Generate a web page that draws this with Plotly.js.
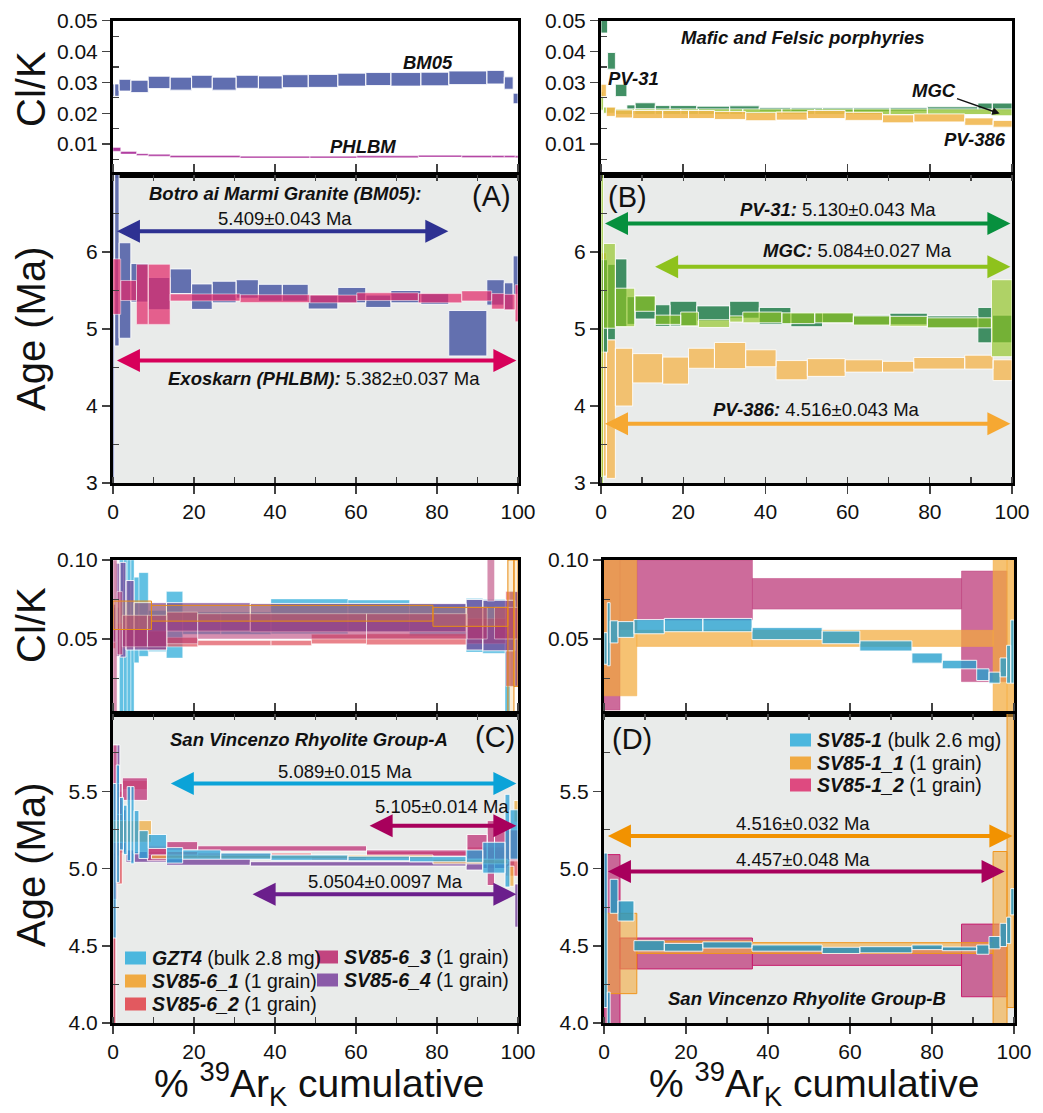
<!DOCTYPE html>
<html><head><meta charset="utf-8">
<script src="https://cdn.plot.ly/plotly-3.0.1.min.js"></script>
<style>body{margin:0;background:#fff}#chart{width:1043px;height:1113px}</style>
</head><body><div id="chart"></div>
<script>
// ---------------- DATA (step edges in cumulative %39ArK, age in Ma, Cl/K) ----------------
// Panel A
const BM05_edges = [0, 0.4, 1.5, 4.4, 8.7, 14.1, 19.4, 24.5, 30.4, 35.9, 41.8, 48.2, 55.5, 62.4, 68.6, 76.0, 82.9, 92.3, 96.6, 98.8, 100];
const BM05_age = [5.0, 5.95, 5.5, 5.6, 5.46, 5.62, 5.42, 5.48, 5.52, 5.47, 5.47, 5.35, 5.44, 5.36, 5.42, 5.39, 4.945, 5.475, 5.425, 5.7];
const BM05_ageErr = [2.5, 1.17, 0.62, 0.25, 0.21, 0.16, 0.165, 0.14, 0.12, 0.11, 0.11, 0.09, 0.1, 0.08, 0.08, 0.07, 0.295, 0.165, 0.175, 0.25];
const BM05_clk = [0.0275, 0.0275, 0.0291, 0.0287, 0.0300, 0.0296, 0.0302, 0.0296, 0.0302, 0.0300, 0.0304, 0.0305, 0.0309, 0.0311, 0.0310, 0.0311, 0.0315, 0.0317, 0.0298, 0.0248];
const BM05_clkErr = [0.002, 0.002, 0.0019, 0.002, 0.002, 0.0021, 0.0021, 0.0021, 0.0021, 0.0021, 0.0021, 0.0021, 0.0021, 0.0021, 0.0022, 0.0022, 0.0022, 0.0022, 0.002, 0.0017];

const PHLBM_edges = [0, 1.9, 5.8, 8.7, 14.1, 31.4, 48.6, 60.2, 75.4, 86.1, 93.5, 96.6, 99.3, 100];
const PHLBM_age = [5.55, 5.5, 5.45, 5.45, 5.41, 5.395, 5.39, 5.42, 5.4, 5.43, 5.36, 5.35, 5.335];
const PHLBM_ageErr = [0.36, 0.13, 0.39, 0.39, 0.045, 0.05, 0.05, 0.05, 0.06, 0.065, 0.1, 0.1, 0.24];
const PHLBM_clk = [0.0083, 0.0072, 0.0066, 0.0064, 0.0060, 0.0058, 0.0058, 0.0059, 0.0061, 0.0060, 0.0060, 0.0060, 0.0059];
const PHLBM_clkErr = [0.0006, 0.0004, 0.0003, 0.0003, 0.0003, 0.0003, 0.0003, 0.0003, 0.0003, 0.0003, 0.0003, 0.0003, 0.0003];

// Panel B
const PV31_edges = [0, 1.6, 3.5, 6.3, 8.3, 13.2, 16.8, 23.3, 31.3, 38.5, 46.2, 53.9, 61.4, 70.3, 79.4, 91.7, 95.2, 100];
const PV31_age = [5.3, 5.35, 5.47, 5.24, 5.28, 5.175, 5.2, 5.2, 5.25, 5.17, 5.12, 5.145, 5.115, 5.13, 5.09, 5.05, 5.0];
const PV31_ageErr = [0.6, 0.49, 0.44, 0.18, 0.15, 0.14, 0.16, 0.1, 0.11, 0.11, 0.09, 0.065, 0.065, 0.075, 0.08, 0.23, 0.18];
const PV31_clk = [0.055, 0.037, 0.0274, 0.0220, 0.0224, 0.0218, 0.0218, 0.0216, 0.0217, 0.0213, 0.0212, 0.0212, 0.0212, 0.0213, 0.0215, 0.0221, 0.0221];
const PV31_clkErr = [0.009, 0.0027, 0.002, 0.0007, 0.001, 0.0007, 0.0007, 0.0007, 0.0007, 0.0006, 0.0006, 0.0006, 0.0006, 0.0006, 0.0006, 0.0012, 0.0012];

const MGC_edges = [0, 0.6, 3.5, 8.2, 13.2, 19.4, 23.7, 31.3, 34.5, 44, 52, 61.4, 70.3, 79.4, 95, 100];
const MGC_age = [5.0, 5.56, 5.28, 5.33, 5.12, 5.13, 5.07, 5.13, 5.15, 5.14, 5.145, 5.11, 5.1, 5.08, 5.14];
const MGC_ageErr = [3.0, 0.55, 0.25, 0.1, 0.06, 0.09, 0.05, 0.04, 0.07, 0.07, 0.065, 0.06, 0.065, 0.065, 0.5];
const MGC_clk = [0.024, 0.021, 0.0205, 0.0205, 0.0205, 0.0205, 0.0205, 0.0205, 0.0205, 0.0205, 0.0205, 0.0205, 0.0205, 0.0205, 0.0203];
const MGC_clkErr = [0.003, 0.001, 0.0009, 0.0009, 0.0009, 0.0009, 0.0009, 0.0009, 0.0009, 0.0009, 0.0009, 0.0009, 0.0009, 0.0009, 0.0011];

const PV386_edges = [0, 1.3, 3.5, 7.7, 15, 21.3, 27.6, 35.2, 42.6, 50.2, 59.4, 68.5, 76.1, 88.5, 95.4, 100];
const PV386_age = [4.54, 3.96, 4.375, 4.49, 4.46, 4.62, 4.655, 4.62, 4.465, 4.5, 4.52, 4.51, 4.555, 4.57, 4.465];
const PV386_ageErr = [1.45, 0.9, 0.375, 0.19, 0.175, 0.13, 0.17, 0.11, 0.125, 0.115, 0.08, 0.07, 0.075, 0.09, 0.135];
const PV386_clk = [0.0274, 0.0205, 0.0198, 0.0196, 0.0196, 0.0196, 0.0193, 0.0189, 0.0191, 0.0196, 0.0190, 0.0182, 0.0185, 0.0173, 0.0166];
const PV386_clkErr = [0.002, 0.0015, 0.0013, 0.0013, 0.0013, 0.0013, 0.0013, 0.0013, 0.0013, 0.0013, 0.0013, 0.0013, 0.0013, 0.0012, 0.0011];

// Panel C
const GZT4_edges = [0, 0.8, 1.6, 2.6, 3.5, 4.4, 5.2, 6.4, 8.7, 13.2, 17.2, 26.6, 39.0, 58.0, 73.2, 87.2, 91.3, 96.8, 98.0, 100];
const GZT4_age = [5.05, 5.29, 5.29, 5.25, 5.29, 5.28, 5.235, 5.155, 5.175, 5.085, 5.09, 5.08, 5.07, 5.065, 5.06, 5.08, 5.07, 5.18, 5.22];
const GZT4_ageErr = [0.5, 0.38, 0.17, 0.16, 0.24, 0.25, 0.14, 0.09, 0.045, 0.05, 0.03, 0.02, 0.017, 0.015, 0.017, 0.04, 0.1, 0.3, 0.16];
const GZT4_clk = [0.06, 0.06, 0.05, 0.05, 0.05, 0.05, 0.062, 0.0655, 0.055, 0.059, 0.060, 0.060, 0.0643, 0.0646, 0.062, 0.0587, 0.058, 0.028, 0.05];
const GZT4_clkErr = [0.01, 0.01, 0.05, 0.05, 0.05, 0.05, 0.027, 0.0265, 0.013, 0.021, 0.007, 0.007, 0.011, 0.010, 0.010, 0.017, 0.017, 0.0255, 0.03];

const SV85_6_1_edges = [0, 9.5, 79, 97.5, 99, 100];
const SV85_6_1_age = [5.24, 5.075, 5.045, 4.95, 5.37];
const SV85_6_1_ageErr = [0.07, 0.012, 0.015, 0.065, 0.07];
const SV85_6_1_clk = [0.065, 0.0663, 0.064, 0.05, 0.06];
const SV85_6_1_clkErr = [0.009, 0.005, 0.006, 0.05, 0.04];

const SV85_6_2_edges = [0, 0.7, 2.3, 8.5, 13.3, 20.9, 39, 49, 62.6, 87.4, 97, 100];
const SV85_6_2_age = [4.53, 5.2, 5.54, 5.12, 5.09, 5.085, 5.09, 5.065, 5.095, 5.1, 5.1];
const SV85_6_2_ageErr = [0.55, 0.3, 0.03, 0.03, 0.02, 0.015, 0.01, 0.012, 0.015, 0.04, 0.15];
const SV85_6_2_clk = [0.05, 0.05, 0.05, 0.049, 0.048, 0.0475, 0.0475, 0.05, 0.0498, 0.055, 0.05];
const SV85_6_2_clkErr = [0.006, 0.01, 0.006, 0.006, 0.003, 0.0016, 0.0016, 0.003, 0.0035, 0.008, 0.03];

const SV85_6_3_edges = [0, 1.0, 2.3, 8.5, 13.3, 20.9, 62.6, 87.4, 92.4, 94.2, 100];
const SV85_6_3_age = [5.3, 5.45, 5.514, 5.095, 5.147, 5.13, 5.1, 5.14, 5.1, 5.15];
const SV85_6_3_ageErr = [0.5, 0.1, 0.073, 0.045, 0.027, 0.017, 0.02, 0.08, 0.21, 0.1];
const SV85_6_3_clk = [0.05, 0.06, 0.055, 0.055, 0.057, 0.058, 0.058, 0.06, 0.09, 0.06];
const SV85_6_3_clkErr = [0.05, 0.02, 0.01, 0.01, 0.01, 0.008, 0.008, 0.01, 0.016, 0.01];

const SV85_6_4_edges = [0, 0.7, 1.7, 3.2, 5.2, 13.2, 33.9, 87.2, 91.3, 99.2, 100];
const SV85_6_4_age = [4.5, 5.44, 5.24, 5.08, 5.075, 5.043, 5.03, 5.02, 5.06, 4.76];
const SV85_6_4_ageErr = [0.6, 0.36, 0.14, 0.04, 0.035, 0.022, 0.014, 0.03, 0.06, 0.14];
const SV85_6_4_clk = [0.06, 0.0685, 0.0685, 0.065, 0.058, 0.064, 0.0635, 0.059, 0.0585, 0.05];
const SV85_6_4_clkErr = [0.012, 0.0295, 0.03, 0.022, 0.015, 0.009, 0.009, 0.016, 0.016, 0.03];

// Panel D
const SV85_1_edges = [0, 0.8, 1.5, 3.4, 7.3, 14.7, 24.1, 36.1, 53.2, 62.4, 75.1, 82.5, 90.9, 93.9, 96.6, 98.2, 99.2, 100];
const SV85_1_age = [4.6, 3.9, 4.82, 4.725, 4.5, 4.49, 4.505, 4.485, 4.47, 4.474, 4.49, 4.48, 4.475, 4.52, 4.57, 4.6, 4.785];
const SV85_1_ageErr = [0.5, 0.3, 0.11, 0.065, 0.033, 0.025, 0.02, 0.02, 0.02, 0.02, 0.015, 0.012, 0.03, 0.04, 0.075, 0.085, 0.085];
const SV85_1_clk = [0.044, 0.053, 0.0545, 0.056, 0.0578, 0.0588, 0.0588, 0.0534, 0.051, 0.0456, 0.0379, 0.0338, 0.0274, 0.0255, 0.032, 0.034, 0.042];
const SV85_1_clkErr = [0.01, 0.02, 0.007, 0.005, 0.0045, 0.0042, 0.0042, 0.0038, 0.004, 0.0032, 0.0032, 0.0027, 0.0037, 0.0035, 0.006, 0.012, 0.02];

const SV85_1_1_edges = [0, 8.0, 36.1, 94.9, 98.3, 100];
const SV85_1_1_age = [4.45, 4.49, 4.485, 4.55, 5.2];
const SV85_1_1_ageErr = [0.26, 0.04, 0.035, 0.56, 1.1];
const SV85_1_1_clk = [0.06, 0.0504, 0.0504, 0.06, 0.05];
const SV85_1_1_clkErr = [0.046, 0.0051, 0.0051, 0.06, 0.06];

const SV85_1_2_edges = [0, 3.9, 8.0, 36.2, 87.2, 98.3];
const SV85_1_2_age = [4.54, 4.45, 4.45, 4.43, 4.405];
const SV85_1_2_ageErr = [0.55, 0.1, 0.1, 0.057, 0.235];
const SV85_1_2_clk = [0.055, 0.078, 0.081, 0.0786, 0.058];
const SV85_1_2_clkErr = [0.05, 0.022, 0.019, 0.0097, 0.035];

// Legend labels
const legendC1 = ['<b><i>GZT4</i></b> (bulk 2.8 mg)', '<b><i>SV85-6_1</i></b> (1 grain)', '<b><i>SV85-6_2</i></b> (1 grain)'];
const legendC2 = ['<b><i>SV85-6_3</i></b> (1 grain)', '<b><i>SV85-6_4</i></b> (1 grain)'];
const legendD = ['<b><i>SV85-1</i></b> (bulk 2.6 mg)', '<b><i>SV85-1_1</i></b> (1 grain)', '<b><i>SV85-1_2</i></b> (1 grain)'];

// ---------------- BUILD ----------------
const W = 1043, H = 1113;
const PX = x => x / W, PY = y => 1 - y / H;
const FONT = '"Liberation Sans", Arial, Helvetica, sans-serif';

function steps(edges, vals, errs, xa, ya, fill, lineColor, lw) {
  const x = [], y = [];
  for (let i = 0; i < vals.length; i++) {
    const x0 = edges[i], x1 = edges[i + 1], lo = vals[i] - errs[i], hi = vals[i] + errs[i];
    x.push(x0, x1, x1, x0, x0, null);
    y.push(lo, lo, hi, hi, lo, null);
  }
  return { type: 'scatter', mode: 'lines', x, y, xaxis: xa, yaxis: ya, fill: 'toself',
    fillcolor: fill, line: { color: lineColor, width: lw === undefined ? 1 : lw },
    connectgaps: false, hoverinfo: 'skip', showlegend: false };
}

const WL = 'rgba(255,255,255,0.85)';
const WS = 'rgba(255,255,255,0.45)';
const traces = [
  // A Cl/K
  steps(BM05_edges, BM05_clk, BM05_clkErr, 'x', 'y', 'rgba(96,110,176,1)', WL),
  steps(PHLBM_edges, PHLBM_clk, PHLBM_clkErr, 'x', 'y', 'rgba(176,60,160,1)', WL, 0.5),
  // A age
  steps(BM05_edges, BM05_age, BM05_ageErr, 'x2', 'y2', 'rgba(88,102,170,0.93)', WL),
  steps(PHLBM_edges, PHLBM_age, PHLBM_ageErr, 'x2', 'y2', 'rgba(226,40,105,0.72)', 'rgba(255,255,255,0.5)'),
  // B Cl/K
  steps(PV31_edges, PV31_clk, PV31_clkErr, 'x3', 'y3', 'rgba(46,132,84,0.9)', WL),
  steps(MGC_edges, MGC_clk, MGC_clkErr, 'x3', 'y3', 'rgba(140,192,40,0.75)', WL),
  steps(PV386_edges, PV386_clk, PV386_clkErr, 'x3', 'y3', 'rgba(240,180,70,0.85)', WL),
  // B age
  steps(PV386_edges, PV386_age, PV386_ageErr, 'x4', 'y4', 'rgba(243,186,90,0.85)', WL),
  steps(PV31_edges, PV31_age, PV31_ageErr, 'x4', 'y4', 'rgba(46,132,84,0.9)', WL),
  steps(MGC_edges, MGC_age, MGC_ageErr, 'x4', 'y4', 'rgba(145,196,30,0.65)', WL),
  // C Cl/K
  steps(GZT4_edges, GZT4_clk, GZT4_clkErr, 'x5', 'y5', 'rgba(70,182,222,0.85)', WS, 0.8),
  steps(SV85_6_2_edges, SV85_6_2_clk, SV85_6_2_clkErr, 'x5', 'y5', 'rgba(226,90,100,0.75)', WS),
  steps(SV85_6_4_edges, SV85_6_4_clk, SV85_6_4_clkErr, 'x5', 'y5', 'rgba(118,62,150,0.7)', WL),
  steps(SV85_6_3_edges, SV85_6_3_clk, SV85_6_3_clkErr, 'x5', 'y5', 'rgba(180,50,110,0.55)', WS),
  steps(SV85_6_1_edges, SV85_6_1_clk, SV85_6_1_clkErr, 'x5', 'y5', 'rgba(240,170,50,0.2)', 'rgba(232,140,20,1)'),
  // C age
  steps(SV85_6_4_edges, SV85_6_4_age, SV85_6_4_ageErr, 'x6', 'y6', 'rgba(125,78,160,0.85)', WL),
  steps(SV85_6_2_edges, SV85_6_2_age, SV85_6_2_ageErr, 'x6', 'y6', 'rgba(226,80,90,0.75)', WL),
  steps(SV85_6_3_edges, SV85_6_3_age, SV85_6_3_ageErr, 'x6', 'y6', 'rgba(192,60,125,0.8)', WL),
  steps(SV85_6_1_edges, SV85_6_1_age, SV85_6_1_ageErr, 'x6', 'y6', 'rgba(240,170,55,0.7)', WL),
  steps(GZT4_edges, GZT4_age, GZT4_ageErr, 'x6', 'y6', 'rgba(40,160,215,0.75)', WL),
  // D Cl/K
  steps(SV85_1_2_edges, SV85_1_2_clk, SV85_1_2_clkErr, 'x7', 'y7', 'rgba(192,70,130,0.8)', 'rgba(192,70,130,1)', 0.5),
  steps(SV85_1_1_edges, SV85_1_1_clk, SV85_1_1_clkErr, 'x7', 'y7', 'rgba(243,170,60,0.72)', 'rgba(243,170,60,0.9)', 0.5),
  steps(SV85_1_edges, SV85_1_clk, SV85_1_clkErr, 'x7', 'y7', 'rgba(40,160,205,0.8)', WL),
  // D age
  steps(SV85_1_2_edges, SV85_1_2_age, SV85_1_2_ageErr, 'x8', 'y8', 'rgba(192,70,130,0.8)', 'rgba(200,30,110,1)'),
  steps(SV85_1_1_edges, SV85_1_1_age, SV85_1_1_ageErr, 'x8', 'y8', 'rgba(243,170,60,0.6)', 'rgba(240,150,30,1)'),
  steps(SV85_1_edges, SV85_1_age, SV85_1_ageErr, 'x8', 'y8', 'rgba(40,150,190,0.85)', WL)
];

const tickFont = { family: FONT, size: 21, color: '#111' };
function xAxis(dom, anchor, labels) {
  const a = { domain: dom, anchor: anchor, range: [0, 100], showline: true, linewidth: 3, linecolor: '#000',
    mirror: true, zeroline: false, showgrid: false, tickfont: tickFont, fixedrange: true };
  if (labels) {
    Object.assign(a, { tickmode: 'linear', tick0: 0, dtick: 20, ticks: 'outside', ticklen: 8, tickwidth: 1.5,
      mirror: 'ticks', minor: { tickmode: 'linear', tick0: 0, dtick: 10, ticks: 'inside', ticklen: 6, tickwidth: 1.2 } });
  } else {
    Object.assign(a, { showticklabels: false, ticks: '' });
  }
  return a;
}
function yAxis(dom, anchor, range, vals, fmt, minorVals) {
  return { domain: dom, anchor: anchor, range: range, tickmode: 'array', tickvals: vals, tickformat: fmt,
    ticks: 'outside', ticklen: 8, tickwidth: 1.5, showline: true, linewidth: 3, linecolor: '#000', mirror: true,
    zeroline: false, showgrid: false, tickfont: tickFont, fixedrange: true,
    minor: { tickmode: 'array', tickvals: minorVals, ticks: 'inside', ticklen: 6, tickwidth: 1.2 } };
}

const dxA = [PX(113), PX(518)], dxB = [PX(601), PX(1012)], dxC = [PX(113), PX(518)], dxD = [PX(604), PX(1014)];
const dClTop = [PY(175), PY(20.7)], dAgeTop = [PY(483), PY(175)];
const dClBot = [PY(714), PY(560)], dAgeBot = [PY(1023), PY(714)];
const clkTopVals = [0.01, 0.02, 0.03, 0.04, 0.05], clkTopMinor = [0.005, 0.015, 0.025, 0.035, 0.045];
const ageTopVals = [3, 4, 5, 6], ageTopMinor = [3.5, 4.5, 5.5, 6.5];
const clkBotVals = [0.05, 0.10], clkBotMinor = [0.025, 0.075];
const ageBotVals = [4.0, 4.5, 5.0, 5.5], ageBotMinor = [4.25, 4.75, 5.25, 5.75];

const layout = {
  width: W, height: H, margin: { l: 0, r: 0, t: 0, b: 0 }, showlegend: false,
  paper_bgcolor: '#fff', plot_bgcolor: 'rgba(0,0,0,0)',
  font: { family: FONT, size: 19, color: '#111' },
  xaxis: xAxis(dxA, 'y', false), yaxis: yAxis(dClTop, 'x', [0, 0.05], clkTopVals, '.2f', clkTopMinor),
  xaxis2: xAxis(dxA, 'y2', true), yaxis2: yAxis(dAgeTop, 'x2', [3, 7], ageTopVals, 'd', ageTopMinor),
  xaxis3: xAxis(dxB, 'y3', false), yaxis3: yAxis(dClTop, 'x3', [0, 0.05], clkTopVals, '.2f', clkTopMinor),
  xaxis4: xAxis(dxB, 'y4', true), yaxis4: yAxis(dAgeTop, 'x4', [3, 7], ageTopVals, 'd', ageTopMinor),
  xaxis5: xAxis(dxC, 'y5', false), yaxis5: yAxis(dClBot, 'x5', [0.0025, 0.1], clkBotVals, '.2f', clkBotMinor),
  xaxis6: xAxis(dxC, 'y6', true), yaxis6: yAxis(dAgeBot, 'x6', [4, 6], ageBotVals, '.1f', ageBotMinor),
  xaxis7: xAxis(dxD, 'y7', false), yaxis7: yAxis(dClBot, 'x7', [0.0025, 0.1], clkBotVals, '.2f', clkBotMinor),
  xaxis8: xAxis(dxD, 'y8', true), yaxis8: yAxis(dAgeBot, 'x8', [4, 6], ageBotVals, '.1f', ageBotMinor),
  shapes: [], annotations: []
};

// grey background of age panels
['x2', 'x4', 'x6', 'x8'].forEach(xa => {
  const ya = 'y' + xa.slice(1);
  layout.shapes.push({ type: 'rect', xref: xa + ' domain', yref: ya + ' domain', x0: 0, x1: 1, y0: 0, y1: 1,
    fillcolor: '#E9EBEA', line: { width: 0 }, layer: 'below' });
});

const A = layout.annotations;
function txt(xa, ya, x, y, text, opt) {
  A.push(Object.assign({ xref: xa, yref: ya, x, y, text, showarrow: false, xanchor: 'center', yanchor: 'middle',
    font: { family: FONT, size: 18.5, color: '#111' } }, opt || {}));
}
function arrow(xa, ya, x0, x1, y, color) {
  A.push({ xref: xa, yref: ya, axref: xa, ayref: ya, x: x1, y: y, ax: x0, ay: y, text: '', showarrow: true,
    arrowside: 'end+start', arrowhead: 2, startarrowhead: 2, arrowsize: 1.15, startarrowsize: 1.15,
    arrowwidth: 4, arrowcolor: color, standoff: 0, startstandoff: 0 });
}
const big = { font: { family: FONT, size: 29, color: '#111' } };

// Panel A
txt('x', 'y', 77.7, 0.0366, '<b><i>BM05</i></b>');
txt('x', 'y', 61.8, 0.0092, '<b><i>PHLBM</i></b>');
txt('x2', 'y2', 42.5, 6.76, '<b><i>Botro ai Marmi Granite (BM05):</i></b>');
txt('x2', 'y2', 42.5, 6.44, '5.409±0.043 Ma');
txt('x2', 'y2', 93.5, 6.73, '(A)', big);
arrow('x2', 'y2', 0.6, 82.8, 6.27, '#2E3192');
arrow('x2', 'y2', 0.6, 99.6, 4.59, '#D7005A');
txt('x2', 'y2', 52, 4.36, '<b><i>Exoskarn (PHLBM):</i></b> 5.382±0.037 Ma');

// Panel B
txt('x3', 'y3', 49.1, 0.0446, '<b><i>Mafic and Felsic porphyries</i></b>');
txt('x3', 'y3', 7.8, 0.0313, '<b><i>PV-31</i></b>');
A.push({ xref: 'x3', yref: 'y3', axref: 'x3', ayref: 'y3', x: 97, y: 0.0199, ax: 80.9, ay: 0.0274,
  text: '<b><i>MGC</i></b>', showarrow: true, arrowhead: 2, arrowsize: 1, arrowwidth: 1.5, arrowcolor: '#111',
  font: { family: FONT, size: 18.5, color: '#111' } });
txt('x3', 'y3', 91, 0.0114, '<b><i>PV-386</i></b>');
txt('x4', 'y4', 6.5, 6.72, '(B)', big);
txt('x4', 'y4', 57.7, 6.55, '<b><i>PV-31:</i></b> 5.130±0.043 Ma');
arrow('x4', 'y4', 0.6, 99.6, 6.37, '#07903E');
txt('x4', 'y4', 62.3, 6.02, '<b><i>MGC:</i></b> 5.084±0.027 Ma');
arrow('x4', 'y4', 12.8, 99.6, 5.81, '#8EC21C');
txt('x4', 'y4', 52.5, 3.96, '<b><i>PV-386:</i></b> 4.516±0.043 Ma');
arrow('x4', 'y4', 0.6, 99.6, 3.77, '#F6A832');

// Panel C
txt('x6', 'y6', 48.5, 5.837, '<b><i>San Vincenzo Rhyolite Group-A</i></b>');
txt('x6', 'y6', 94.3, 5.848, '(C)', big);
txt('x6', 'y6', 57.2, 5.63, '5.089±0.015 Ma');
arrow('x6', 'y6', 13.9, 99.6, 5.55, '#0BA3D8');
txt('x6', 'y6', 81.2, 5.40, '5.105±0.014 Ma');
arrow('x6', 'y6', 63, 99.6, 5.276, '#A8005C');
txt('x6', 'y6', 67.2, 4.913, '5.0504±0.0097 Ma');
arrow('x6', 'y6', 34.1, 99.6, 4.833, '#6B1F8C');

// Panel D
txt('x8', 'y8', 6.8, 5.84, '(D)', big);
txt('x8', 'y8', 48.5, 5.29, '4.516±0.032 Ma');
arrow('x8', 'y8', 0.6, 99.6, 5.21, '#F29200');
txt('x8', 'y8', 48.5, 5.06, '4.457±0.048 Ma');
arrow('x8', 'y8', 0.6, 97.7, 4.98, '#A8005C');
txt('x8', 'y8', 49.5, 4.158, '<b><i>San Vincenzo Rhyolite Group-B</i></b>');

// legends (swatches + labels)
function legend(labels, colors, xSw, xTxt, yRows) {
  labels.forEach((t, i) => {
    layout.shapes.push({ type: 'rect', xref: 'paper', yref: 'paper', x0: PX(xSw), x1: PX(xSw + 21),
      y0: PY(yRows[i] + 6.5), y1: PY(yRows[i] - 6.5), fillcolor: colors[i], line: { width: 0 } });
    A.push({ xref: 'paper', yref: 'paper', x: PX(xTxt), y: PY(yRows[i]), text: t, showarrow: false,
      xanchor: 'left', yanchor: 'middle', font: { family: FONT, size: 19.5, color: '#111' } });
  });
}
legend(legendC1, ['#4BB7DE', '#F0AA42', '#E2595F'], 125, 150, [958, 981, 1004]);
legend(legendC2, ['#C2447F', '#8A5AA8'], 317, 342, [957, 980]);
legend(legendD, ['#4BB7DE', '#F0AA42', '#DE4A80'], 790, 815, [740, 763, 785]);

// axis titles
const ttl = { family: FONT, size: 40, color: '#111' };
[[89, 'Cl/K'], [329, 'Age (Ma)'], [625, 'Cl/K'], [865, 'Age (Ma)']].forEach(([y, t]) => {
  A.push({ xref: 'paper', yref: 'paper', x: PX(31), y: PY(y), text: t, textangle: -90, showarrow: false,
    xanchor: 'center', yanchor: 'middle', font: ttl });
});
[319, 814].forEach(x => {
  A.push({ xref: 'paper', yref: 'paper', x: PX(x), y: PY(1084), text: '% <sup>39</sup>Ar<sub>K</sub> cumulative',
    showarrow: false, xanchor: 'center', yanchor: 'middle', font: { family: FONT, size: 39, color: '#111' } });
});

Plotly.newPlot('chart', traces, layout, { staticPlot: true, displayModeBar: false });
</script></body></html>
